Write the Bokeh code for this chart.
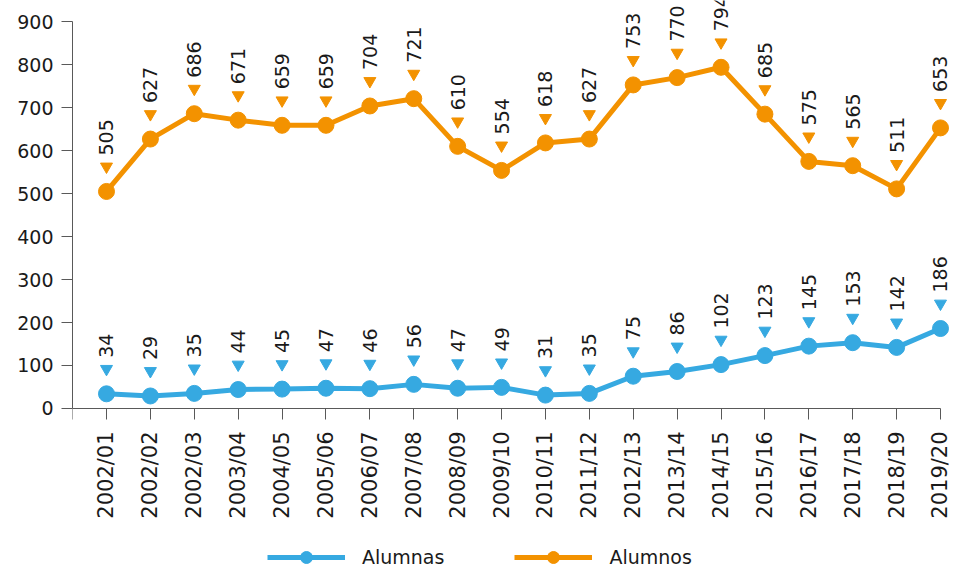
import numpy as np
from math import pi
from bokeh.plotting import figure
from bokeh.models import (ColumnDataSource, Range1d, FixedTicker, Legend, LegendItem)
from bokeh.core.properties import value
from bokeh.embed import file_html
from bokeh.resources import INLINE

categories = ["2002/01", "2002/02", "2002/03", "2003/04", "2004/05", "2005/06",
              "2006/07", "2007/08", "2008/09", "2009/10", "2010/11", "2011/12",
              "2012/13", "2013/14", "2014/15", "2015/16", "2016/17", "2017/18",
              "2018/19", "2019/20"]
alumnas = [34, 29, 35, 44, 45, 47, 46, 56, 47, 49, 31, 35, 75, 86, 102, 123, 145, 153, 142, 186]
alumnos = [505, 627, 686, 671, 659, 659, 704, 721, 610, 554, 618, 627, 753, 770, 794, 685, 575, 565, 511, 653]
y_ticks = [0, 100, 200, 300, 400, 500, 600, 700, 800, 900]

BLUE = "#36A9E1"
ORANGE = "#F39200"
FONT = "DejaVu Sans"
AXIS_COLOR = "#595959"
TEXT_COLOR = "#1a1a1a"

X_START = -0.7745
idx = list(range(len(categories)))

# the frame covers the whole picture height; the x axis is pinned at y = 0
p = figure(frame_width=882, frame_height=572, output_backend="svg", toolbar_location=None,
           x_range=Range1d(X_START, 19.319), y_range=Range1d(-381.9, 949.5),
           min_border_left=72, min_border_right=0, min_border_top=0,
           min_border_bottom=0)
p.outline_line_color = None
p.xgrid.visible = False
p.ygrid.visible = False
p.background_fill_color = "white"
p.border_fill_color = "white"

# y axis
ya = p.yaxis[0]
ya.ticker = FixedTicker(ticks=y_ticks)
ya.bounds = (0, 900)
ya.minor_tick_line_color = None
ya.major_tick_in = 0
ya.major_tick_out = 11
ya.major_label_standoff = 8
ya.axis_line_color = AXIS_COLOR
ya.major_tick_line_color = AXIS_COLOR
ya.major_label_text_font = FONT
ya.major_label_text_font_size = "19px"
ya.major_label_text_color = TEXT_COLOR

# x axis
xa = p.xaxis[0]
xa.fixed_location = 0
xa.ticker = FixedTicker(ticks=[X_START] + idx)
overrides = {i: c for i, c in zip(idx, categories)}
overrides[X_START] = ""
xa.major_label_overrides = overrides
xa.bounds = (X_START, 19)
xa.minor_tick_line_color = None
xa.major_tick_in = 0
xa.major_tick_out = 11
xa.major_label_standoff = 12
xa.major_label_orientation = pi / 2
xa.axis_line_color = AXIS_COLOR
xa.major_tick_line_color = AXIS_COLOR
xa.major_label_text_font = FONT
xa.major_label_text_font_size = "21px"
xa.major_label_text_color = TEXT_COLOR

TRI_OFFSET = 58  # data units above the point (about 25 px)

src = ColumnDataSource(dict(
    x=idx,
    alumnas=alumnas,
    alumnos=alumnos,
    alumnas_tri=list(np.array(alumnas) + TRI_OFFSET),
    alumnos_tri=list(np.array(alumnos) + TRI_OFFSET),
    alumnas_lbl=[str(v) for v in alumnas],
    alumnos_lbl=[str(v) for v in alumnos],
))

items = []
for key, color, name in [("alumnas", BLUE, "Alumnas"), ("alumnos", ORANGE, "Alumnos")]:
    ln = p.line("x", key, source=src, line_color=color, line_width=5)
    cr = p.scatter("x", key, source=src, marker="circle", size=16,
                   fill_color=color, line_color=color)
    p.scatter("x", key + "_tri", source=src, marker="inverted_triangle", size=12,
              fill_color=color, line_color=color)
    p.text("x", key, text=key + "_lbl", source=src, angle=pi / 2,
           text_align="left", text_baseline="middle", y_offset=-36,
           text_font=value(FONT), text_font_size="19px", text_color=TEXT_COLOR)
    items.append(LegendItem(label=name, renderers=[ln, cr]))

legend = Legend(items=items, orientation="horizontal", location=(195, 0),
                glyph_width=78, glyph_height=30, label_height=20,
                label_standoff=17, spacing=70,
                padding=0, margin=0, border_line_color=None,
                background_fill_alpha=0,
                label_text_font=FONT, label_text_font_size="19px",
                label_text_color=TEXT_COLOR)
p.add_layout(legend, "center")

open("out.html", "w").write(file_html(p, INLINE))
